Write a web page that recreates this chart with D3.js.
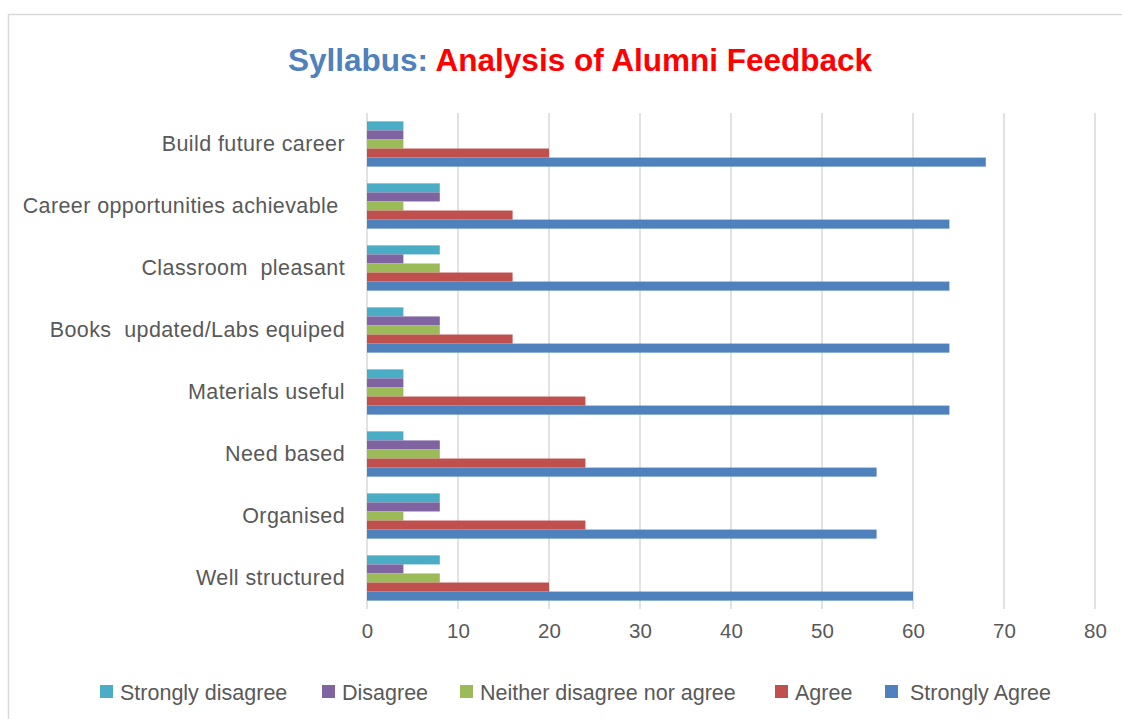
<!DOCTYPE html>
<html>
<head>
<meta charset="utf-8">
<script src="https://cdn.jsdelivr.net/npm/d3@7"></script>
<style>
  html, body { margin: 0; padding: 0; background: #fff; }
  svg { display: block; font-family: "Liberation Sans", Arial, sans-serif; }
</style>
</head>
<body>
<svg id="chart" width="1122" height="719"></svg>
<script>
// ---- data ----
const categories = [
  "Build future career",
  "Career opportunities achievable ",
  "Classroom  pleasant",
  "Books  updated/Labs equiped",
  "Materials useful",
  "Need based",
  "Organised",
  "Well structured"
];
const seriesNames = ["Strongly disagree", "Disagree", "Neither disagree nor agree", "Agree", "Strongly Agree"];
const stronglyDisagree = [4, 8, 8, 4, 4, 4, 8, 8];
const disagree         = [4, 8, 4, 8, 4, 8, 8, 4];
const neither          = [4, 4, 8, 8, 4, 8, 4, 8];
const agree            = [20, 16, 16, 16, 24, 24, 24, 20];
const stronglyAgree    = [68, 64, 64, 64, 64, 56, 56, 60];
const xTicks = [0, 10, 20, 30, 40, 50, 60, 70, 80];
const colors = ["#4BACC6", "#8064A2", "#9BBB59", "#C0504D", "#4F81BD"];

const seriesValues = [stronglyDisagree, disagree, neither, agree, stronglyAgree];

const svg = d3.select("#chart");

// chart border
svg.append("rect")
  .attr("x", 8.5).attr("y", 14.5)
  .attr("width", 1130).attr("height", 720)
  .attr("fill", "#fff").attr("stroke", "#d9d9d9").attr("stroke-width", 1.5);

// title
const title = svg.append("text")
  .attr("x", 580).attr("y", 71)
  .attr("text-anchor", "middle")
  .attr("font-size", 31.5).attr("font-weight", "bold");
title.append("tspan").attr("fill", "#4F81BD").text("Syllabus: ");
title.append("tspan").attr("fill", "#FF0000").text("Analysis of Alumni Feedback");

// scales
const x = d3.scaleLinear().domain([0, 80]).range([367, 1095]);
const y = d3.scaleBand().domain(categories).range([113, 609])
  .paddingInner(0.27).paddingOuter(0.135);
const ySub = d3.scaleBand().domain(d3.range(seriesNames.length)).range([0, y.bandwidth()]);

// grid lines
svg.append("g").selectAll("line").data(xTicks).join("line")
  .attr("x1", d => x(d)).attr("x2", d => x(d))
  .attr("y1", 113).attr("y2", 609)
  .attr("stroke", "#d9d9d9").attr("stroke-width", 1.5);

// bars
const groups = svg.append("g").selectAll("g").data(categories).join("g")
  .attr("transform", c => `translate(0,${y(c)})`);
groups.selectAll("rect")
  .data((c, ci) => seriesValues.map((vals, si) => ({ si, v: vals[ci] })))
  .join("rect")
  .attr("x", x(0))
  .attr("y", d => ySub(d.si))
  .attr("width", d => x(d.v) - x(0))
  .attr("height", ySub.bandwidth())
  .attr("fill", d => colors[d.si]);

// x axis (labels only)
const xAxis = d3.axisBottom(x).tickValues(xTicks).tickSize(0).tickPadding(0);
const gx = svg.append("g").attr("transform", "translate(0,623)").call(xAxis);
gx.select(".domain").remove();
gx.selectAll("text").attr("font-size", 20.5).attr("fill", "#595959")
  .attr("font-family", "Liberation Sans, Arial, sans-serif");

// y axis (labels only)
const yAxis = d3.axisLeft(y).tickSize(0).tickPadding(22);
const gy = svg.append("g").attr("transform", `translate(${x(0)},0)`).call(yAxis);
gy.select(".domain").remove();
gy.selectAll("text").attr("font-size", 21.5).attr("fill", "#595959")
  .attr("letter-spacing", 0.4)
  .attr("font-family", "Liberation Sans, Arial, sans-serif")
  .style("white-space", "pre");

// legend
const legendX = [100, 322, 460, 775, 885];
const legendTextOffset = [20, 20, 20, 20, 25];
const legend = svg.append("g").selectAll("g").data(seriesNames).join("g")
  .attr("transform", (d, i) => `translate(${legendX[i]},685)`);
legend.append("rect").attr("width", 13).attr("height", 13)
  .attr("fill", (d, i) => colors[i]);
legend.append("text")
  .attr("x", (d, i) => legendTextOffset[i]).attr("y", 14.5)
  .attr("font-size", 21.5).attr("fill", "#595959")
  .text(d => d);
</script>
</body>
</html>
